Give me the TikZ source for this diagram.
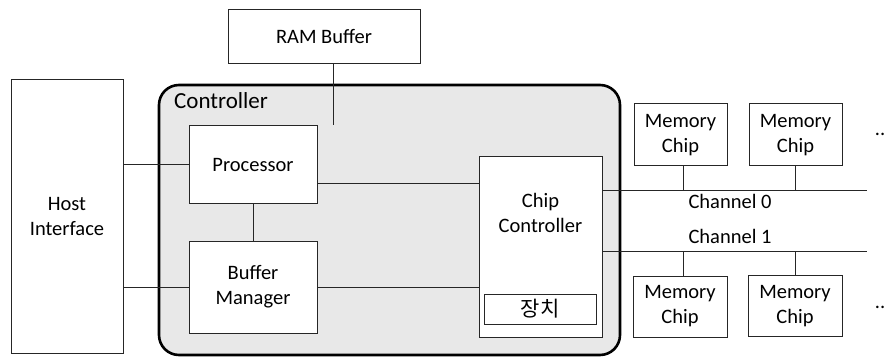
\documentclass[tikz,border=0pt]{standalone}
\usepackage{fontspec}
\setmainfont{Carlito}
\newfontfamily\krfont{Noto Sans CJK KR}
\begin{document}
\begin{tikzpicture}[x=1pt,y=-1pt,
  box/.style={draw=black!85, line width=1pt, fill=white, inner sep=0pt, align=center, font=\fontsize{20.5}{25}\selectfont},
  wire/.style={draw=black!85, line width=1pt},
  lbl/.style={inner sep=0pt, font=\fontsize{20.5}{25}\selectfont}]
\useasboundingbox (0,0) rectangle (885,358);

% controller enclosure
\draw[line width=2.6pt, fill=black!9, rounded corners=20pt] (159,85) rectangle (620,355);
\node[lbl, anchor=west, font=\fontsize{23}{28}\selectfont] (ctrllbl) at (174,101) {Controller};

% blocks
\node[box, minimum width=192pt, minimum height=54pt] (ram) at (324,36.5) {RAM Buffer};
\node[box, minimum width=112pt, minimum height=273pt] (host) at (67,216.5) {Host\\Interface};
\node[box, minimum width=128pt, minimum height=77pt] (proc) at (253,164.5) {Processor};
\node[box, minimum width=128pt, minimum height=92pt] (bm) at (253,287) {Buffer\\Manager};
\node[box, minimum width=123pt, minimum height=180pt] (chip) at (540.5,247) {};
\node[lbl, align=center] (chiptxt) at (540.5,213) {Chip\\Controller};
\node[box, minimum width=112pt, minimum height=30pt, font=\krfont\fontsize{21}{24}\selectfont] (dev) at (540,309) {장치};

% memory chips
\node[box, minimum width=93pt, minimum height=62pt] (m1) at (680.5,135) {Memory\\Chip};
\node[box, minimum width=93pt, minimum height=62pt] (m2) at (795.5,135) {Memory\\Chip};
\node[box, minimum width=94pt, minimum height=61pt] (m3) at (680,306.5) {Memory\\Chip};
\node[box, minimum width=94pt, minimum height=61pt] (m4) at (795,306) {Memory\\Chip};

% channel bus ends
\coordinate (ch0end) at (867,190);
\coordinate (ch1end) at (867,251);

% connections
\draw[wire] (host.east |- proc.west) -- (proc.west);
\draw[wire] (host.east |- bm.west) -- (bm.west);
\draw[wire] (proc.south) -- (bm.north);
\draw[wire] ([xshift=9pt]ram.south) -- ([xshift=9pt]ram.south |- proc.north);
\draw[wire] ([yshift=-18.5pt]proc.east) -- ([yshift=-18.5pt]proc.east -| chip.west);
\draw[wire] (bm.east) -- (bm.east -| chip.west);
\draw[wire] (chip.east |- ch0end) -- (ch0end);
\draw[wire] (chip.east |- ch1end) -- (ch1end);
\draw[wire] ([xshift=2.5pt]m1.south) -- ([xshift=2.5pt]m1.south |- ch0end);
\draw[wire] (m2.south) -- (m2.south |- ch0end);
\draw[wire] ([xshift=3pt]m3.north) -- ([xshift=3pt]m3.north |- ch1end);
\draw[wire] (m4.north) -- (m4.north |- ch1end);

% channel labels and continuation marks
\node[lbl] (ch0) at (730,201) {Channel 0};
\node[lbl] (ch1) at (730,236) {Channel 1};
\node[lbl] (dots0) at (880,134) {..};
\node[lbl] (dots1) at (880,307) {..};
\end{tikzpicture}
\end{document}
